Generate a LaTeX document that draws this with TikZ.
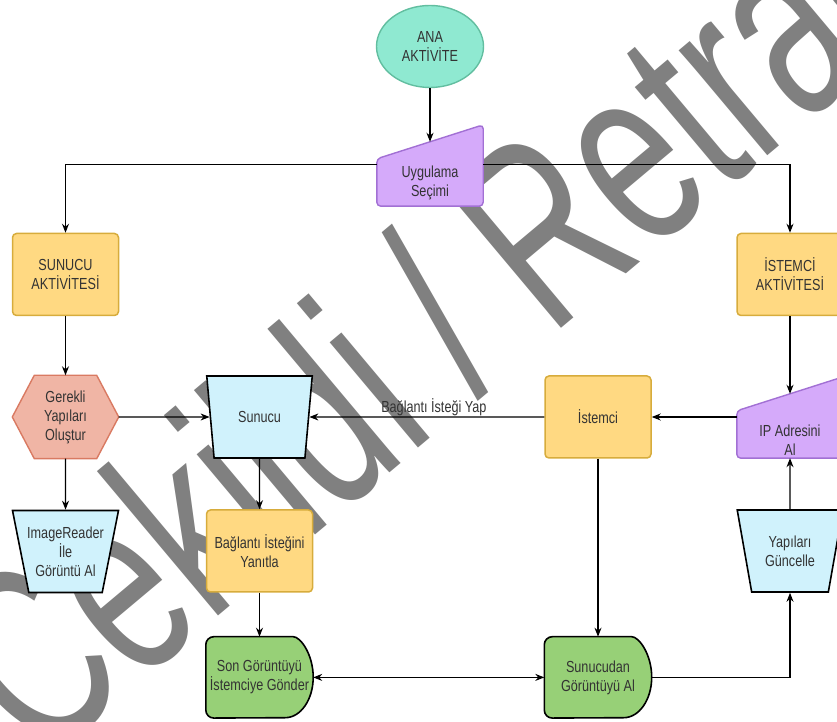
\documentclass[tikz,border=0pt]{standalone}
\usepackage{fontspec}
\setmainfont{Liberation Sans}[FakeStretch=0.79]
\newfontfamily\wmfont{Liberation Sans}[FakeStretch=0.67]
\usetikzlibrary{arrows.meta,positioning,shapes.geometric,backgrounds}
\pgfdeclarelayer{wmlayer}
\pgfsetlayers{wmlayer,background,main}
\definecolor{anafill}{RGB}{143,233,209}
\definecolor{anadraw}{RGB}{98,190,160}
\definecolor{selfill}{RGB}{213,170,250}
\definecolor{seldraw}{RGB}{162,112,212}
\definecolor{actfill}{RGB}{255,217,130}
\definecolor{actdraw}{RGB}{215,172,60}
\definecolor{hexfill}{RGB}{240,181,165}
\definecolor{hexdraw}{RGB}{217,122,98}
\definecolor{trapfill}{RGB}{208,242,252}
\definecolor{delayfill}{RGB}{151,208,119}
\definecolor{lblgray}{RGB}{51,51,51}
\definecolor{wmgray}{RGB}{128,128,128}
\tikzset{
  >={Stealth[length=9pt,width=7pt]},
  conn/.style={->, line width=1.1pt},
  lbl/.style={font=\fontsize{16}{19}\selectfont, text=lblgray, align=center},
  startnode/.style={lbl, ellipse, draw=anadraw, fill=anafill, line width=1.4pt, minimum width=107pt, minimum height=82pt},
  actbox/.style={lbl, draw=actdraw, fill=actfill, line width=1.5pt, rounded corners=4pt, minimum width=106pt, minimum height=82pt},
  trapbox/.style={lbl, trapezium, shape border rotate=180, trapezium stretches=true, trapezium angle=73, draw=black, fill=trapfill, line width=1.6pt, minimum width=106pt, minimum height=82pt, inner sep=0pt},
  selshape/.style={draw=seldraw, fill=selfill, line width=1.4pt, rounded corners=4pt},
  hexshape/.style={draw=hexdraw, fill=hexfill, line width=1.4pt},
  delayshape/.style={draw=black, fill=delayfill, line width=1.6pt},
  wmtext/.style={font=\wmfont\fontsize{260}{260}\selectfont, text=wmgray, rotate=40, anchor=base west, inner sep=0pt}
}
\begin{document}
\begin{tikzpicture}[x=1pt, y=1pt]
\useasboundingbox (0,0) rectangle (837,722);
\begin{pgfonlayer}{wmlayer}
  \node[wmtext] (wm) at (39,-45) {Çekildi / Retracted};
\end{pgfonlayer}

\node[startnode] (ana) at (430,675.5) {ANA\\AKTİVİTE};
\node[lbl, minimum width=106pt, minimum height=47pt] (sel) at (430,539.5) {Uygulama\\Seçimi};
\node[actbox] (sak) at (65.5,447.5) {SUNUCU\\AKTİVİTESİ};
\node[actbox] (iak) at (790,447.5) {İSTEMCİ\\AKTİVİTESİ};
\node[lbl, minimum width=106pt, minimum height=83pt] (ger) at (65.5,305) {Gerekli\\Yapıları\\Oluştur};
\node[trapbox] (sun) at (259.5,305) {Sunucu};
\node[actbox] (ist) at (598,305) {İstemci};
\node[minimum width=106pt, minimum height=47pt, inner sep=0pt] (ip) at (790,287.5) {};
\node[lbl] (iptext) at ([yshift=-6pt]ip.center) {IP Adresini\\Al};
\node[trapbox, inner xsep=-4pt] (ir) at (65.5,170.5) {ImageReader\\İle\\Görüntü Al};
\node[actbox] (yan) at (259.5,171) {Bağlantı İsteğini\\Yanıtla};
\node[trapbox] (yg) at (790,171) {Yapıları\\Güncelle};
\node[lbl, minimum width=107pt, minimum height=81pt] (son) at (259.5,44.6) {Son Görüntüyü\\İstemciye Gönder};
\node[lbl, minimum width=107pt, minimum height=81pt] (sgal) at (598,44.6) {Sunucudan\\Görüntüyü Al};

\begin{scope}[on background layer]
  \draw[selshape] (sel.south west) -- (sel.north west) -- ([yshift=34pt]sel.north east) -- (sel.south east) -- cycle;
  \draw[selshape] (ip.south west) -- (ip.north west) -- ([yshift=34pt]ip.north east) -- (ip.south east) -- cycle;
  \draw[hexshape] (ger.west) -- ([xshift=22pt]ger.north west) -- ([xshift=-22pt]ger.north east) -- (ger.east) -- ([xshift=-22pt]ger.south east) -- ([xshift=22pt]ger.south west) -- cycle;
  \draw[delayshape] ([xshift=-28pt]son.north east) arc[start angle=90, end angle=-90, x radius=28pt, y radius=40.5pt] [rounded corners=8pt] -- (son.south west) -- (son.north west) -- cycle;
  \draw[delayshape] ([xshift=-28pt]sgal.north east) arc[start angle=90, end angle=-90, x radius=28pt, y radius=40.5pt] [rounded corners=8pt] -- (sgal.south west) -- (sgal.north west) -- cycle;
\end{scope}

\draw[conn] (ana.south) -- ([yshift=17pt]sel.north);
\draw[conn] ([yshift=18pt]sel.west) -| (sak.north);
\draw[conn] ([yshift=18pt]sel.east) -| (iak.north);
\draw[conn] (sak.south) -- (ger.north);
\draw[conn] (ger.east) -- (sun.west);
\draw[conn] (ist.west) -- node[lbl, above, pos=0.47, inner sep=1pt] (req) {Bağlantı İsteği Yap} (sun.east);
\draw[conn] (ip.west |- ist.east) -- (ist.east);
\draw[conn] (iak.south) -- ([yshift=17pt]ip.north);
\draw[conn] (ger.south) -- (ir.north);
\draw[conn] (sun.south) -- (yan.north);
\draw[conn] (yan.south) -- (son.north);
\draw[conn] (ist.south) -- (sgal.north);
\draw[conn, <->] (son.east) -- (sgal.west);
\draw[conn] (sgal.east) -| (yg.south);
\draw[conn] (yg.north) -- (ip.south);
\end{tikzpicture}
\end{document}
